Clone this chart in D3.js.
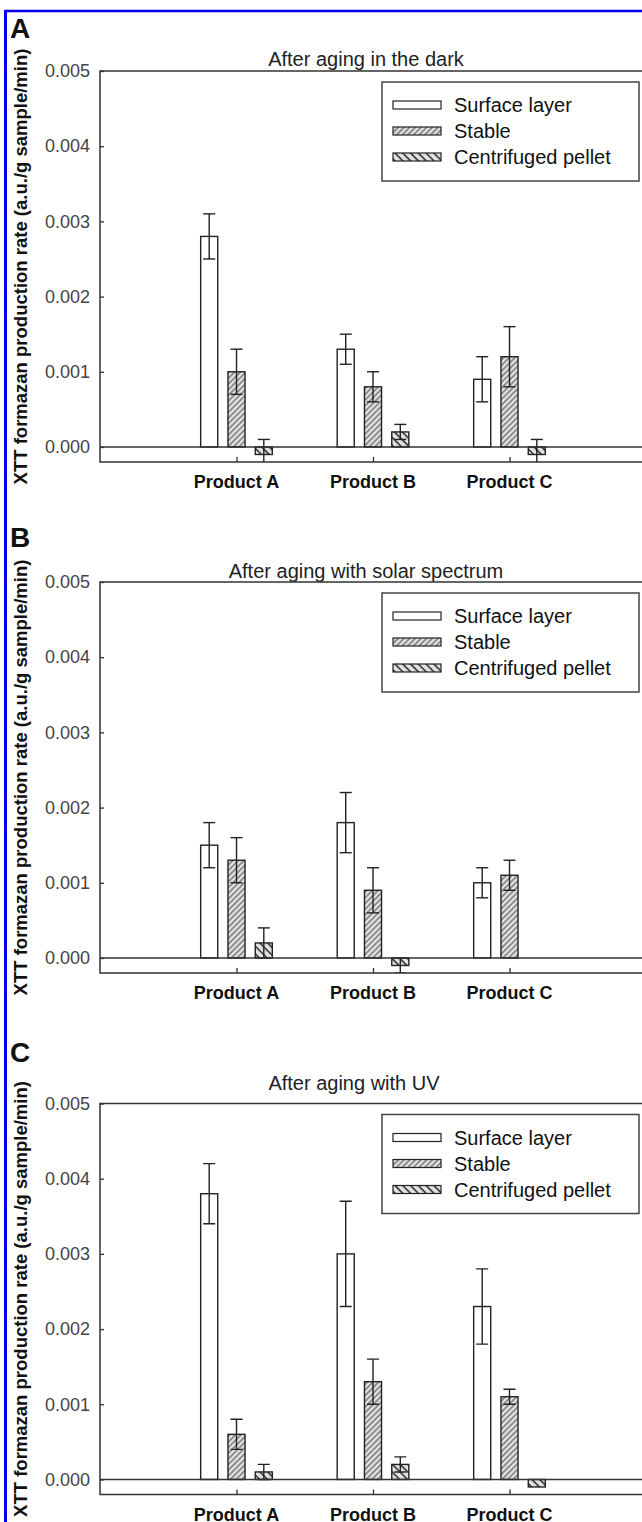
<!DOCTYPE html>
<html>
<head>
    <title>XTT formazan production</title>
    <meta charset="UTF-8">
    <script src="https://cdn.jsdelivr.net/npm/d3@7"></script>
    <style>
        body { margin: 0; background: #fff; }
        svg { display: block; }
        text { font-family: "Liberation Sans", Arial, sans-serif; }
    </style>
</head>
<body>

    <script>
        var categories = ['Product A', 'Product B', 'Product C']
        var seriesNames = ['Surface layer', 'Stable', 'Centrifuged pellet']
        var panelLetters = ['A', 'B', 'C']
        var panelTitles = ['After aging in the dark', 'After aging with solar spectrum', 'After aging with UV']
        var yTicks = [0, 0.001, 0.002, 0.003, 0.004, 0.005]
        var yTickLabels = ['0.000', '0.001', '0.002', '0.003', '0.004', '0.005']
        var yLabel = 'XTT formazan production rate (a.u./g sample/min)'

        // A: dark
        var darkSurface = [0.0028, 0.0013, 0.0009]
        var darkSurfaceErr = [0.0003, 0.0002, 0.0003]
        var darkStable = [0.0010, 0.0008, 0.0012]
        var darkStableErr = [0.0003, 0.0002, 0.0004]
        var darkPellet = [-0.0001, 0.0002, -0.0001]
        var darkPelletErr = [0.0002, 0.0001, 0.0002]

        // B: solar spectrum
        var solarSurface = [0.0015, 0.0018, 0.0010]
        var solarSurfaceErr = [0.0003, 0.0004, 0.0002]
        var solarStable = [0.0013, 0.0009, 0.0011]
        var solarStableErr = [0.0003, 0.0003, 0.0002]
        var solarPellet = [0.0002, -0.0001, null]
        var solarPelletErr = [0.0002, 0.0001, null]

        // C: UV
        var uvSurface = [0.0038, 0.0030, 0.0023]
        var uvSurfaceErr = [0.0004, 0.0007, 0.0005]
        var uvStable = [0.0006, 0.0013, 0.0011]
        var uvStableErr = [0.0002, 0.0003, 0.0001]
        var uvPellet = [0.0001, 0.0002, -0.0001]
        var uvPelletErr = [0.0001, 0.0001, 0]

        var panelValues = [
            [darkSurface, darkStable, darkPellet],
            [solarSurface, solarStable, solarPellet],
            [uvSurface, uvStable, uvPellet]
        ]
        var panelErrors = [
            [darkSurfaceErr, darkStableErr, darkPelletErr],
            [solarSurfaceErr, solarStableErr, solarPelletErr],
            [uvSurfaceErr, uvStableErr, uvPelletErr]
        ]

        // layout of each panel (frame top, letter baseline, title baseline, title centre)
        var panelTop = [71, 582, 1103.5]
        var letterY = [38, 547, 1062]
        var titleY = [66, 578, 1090]
        var titleX = [366, 366, 354]

        var W = 642, H = 1522
        var fills = ['#fff', 'url(#hatchStable)', 'url(#hatchPellet)']

        var svg = d3.select('body')
            .append('svg')
            .attr('width', W)
            .attr('height', H)

        var defs = svg.append('defs')

        defs.append('pattern')
            .attr('id', 'hatchStable')
            .attr('patternUnits', 'userSpaceOnUse')
            .attr('width', 4)
            .attr('height', 4)
            .attr('patternTransform', 'rotate(45)')
            .call(function(p){
                p.append('rect').attr('width', 4).attr('height', 4).attr('fill', '#e6e6e6')
                p.append('line').attr('x1', 1).attr('x2', 1).attr('y1', 0).attr('y2', 4)
                    .attr('stroke', '#444').attr('stroke-width', 1.1)
            })

        defs.append('pattern')
            .attr('id', 'hatchPellet')
            .attr('patternUnits', 'userSpaceOnUse')
            .attr('width', 5.5)
            .attr('height', 5.5)
            .attr('patternTransform', 'rotate(-45)')
            .call(function(p){
                p.append('rect').attr('width', 5.5).attr('height', 5.5).attr('fill', '#e2e2e2')
                p.append('line').attr('x1', 1).attr('x2', 1).attr('y1', 0).attr('y2', 5.5)
                    .attr('stroke', '#333').attr('stroke-width', 1.6)
            })

        var x = d3.scaleLinear().domain([0, 4]).range([100, 646])
        var offset = 0.2, barW = 0.125

        panelTitles.forEach(function(title, p){
            var top = panelTop[p]
            var y = d3.scaleLinear().domain([-0.0002, 0.005]).range([top + 391, top])
            var g = svg.append('g')

            defs.append('clipPath')
                .attr('id', 'clip' + p)
                .append('rect')
                .attr('x', x(0)).attr('y', y(0.005))
                .attr('width', x(4) - x(0)).attr('height', y(-0.0002) - y(0.005))

            // panel letter and title
            g.append('text')
                .text(panelLetters[p])
                .attr('x', 10).attr('y', letterY[p])
                .attr('font-size', 28).attr('font-weight', 'bold').attr('fill', '#111')

            g.append('text')
                .text(title)
                .attr('x', titleX[p]).attr('y', titleY[p])
                .attr('text-anchor', 'middle')
                .attr('font-size', 20).attr('fill', '#222')

            // y axis label
            g.append('text')
                .text(yLabel)
                .attr('transform', 'translate(27,' + (y(0.005) + y(-0.0002)) / 2 + ') rotate(-90)')
                .attr('text-anchor', 'middle')
                .attr('font-size', 18.5).attr('font-weight', 'bold').attr('fill', '#111')

            // bars
            var plot = g.append('g').attr('clip-path', 'url(#clip' + p + ')')

            panelValues[p].forEach(function(vals, s){
                var rows = vals.map(function(v, i){
                    return {v: v, e: panelErrors[p][s][i], c: i + 1}
                }).filter(function(d){ return d.v != null })

                plot.selectAll('rect.s' + s)
                    .data(rows)
                    .enter()
                    .append('rect')
                    .attr('class', 's' + s)
                    .attr('x', function(d){ return x(d.c + (s - 1) * offset - barW / 2) })
                    .attr('width', function(d){ return x(barW) - x(0) })
                    .attr('y', function(d){ return y(Math.max(d.v, 0)) })
                    .attr('height', function(d){ return Math.abs(y(d.v) - y(0)) })
                    .attr('fill', fills[s])
                    .attr('stroke', '#222')
                    .attr('stroke-width', 1.4)

                var eb = plot.selectAll('g.e' + s)
                    .data(rows.filter(function(d){ return d.e > 0 }))
                    .enter()
                    .append('g')
                    .attr('class', 'e' + s)
                    .attr('stroke', '#222')
                    .attr('stroke-width', 1.4)

                eb.append('line')
                    .attr('x1', function(d){ return x(d.c + (s - 1) * offset) })
                    .attr('x2', function(d){ return x(d.c + (s - 1) * offset) })
                    .attr('y1', function(d){ return y(d.v + d.e) })
                    .attr('y2', function(d){ return y(d.v - d.e) })

                ;[1, -1].forEach(function(sign){
                    eb.append('line')
                        .attr('x1', function(d){ return x(d.c + (s - 1) * offset) - 6 })
                        .attr('x2', function(d){ return x(d.c + (s - 1) * offset) + 6 })
                        .attr('y1', function(d){ return y(d.v + sign * d.e) })
                        .attr('y2', function(d){ return y(d.v + sign * d.e) })
                })
            })

            // zero line
            g.append('line')
                .attr('x1', x(0)).attr('x2', x(4))
                .attr('y1', y(0)).attr('y2', y(0))
                .attr('stroke', '#333').attr('stroke-width', 1.5)

            // frame
            g.append('rect')
                .attr('x', x(0)).attr('y', y(0.005))
                .attr('width', x(4) - x(0)).attr('height', y(-0.0002) - y(0.005))
                .attr('fill', 'none').attr('stroke', '#333').attr('stroke-width', 1.5)

            // y axis
            g.append('g')
                .attr('transform', 'translate(' + x(0) + ',0)')
                .call(d3.axisRight(y).tickValues(yTicks).tickSize(4)
                    .tickFormat(function(d, i){ return '' }))
                .call(function(a){
                    a.select('.domain').remove()
                    a.selectAll('line').attr('stroke', '#333').attr('stroke-width', 1.3)
                })

            g.selectAll('text.ytick')
                .data(yTicks)
                .enter()
                .append('text')
                .attr('class', 'ytick')
                .text(function(d, i){ return yTickLabels[i] })
                .attr('x', 90)
                .attr('y', function(d){ return y(d) })
                .attr('dy', '0.35em')
                .attr('text-anchor', 'end')
                .attr('font-size', 18).attr('fill', '#444')

            // x axis
            g.append('g')
                .attr('transform', 'translate(0,' + y(-0.0002) + ')')
                .call(d3.axisTop(x).tickValues([1, 2, 3]).tickSize(5).tickFormat(''))
                .call(function(a){
                    a.select('.domain').remove()
                    a.selectAll('line').attr('stroke', '#333').attr('stroke-width', 1.3)
                })

            g.selectAll('text.xtick')
                .data(categories)
                .enter()
                .append('text')
                .attr('class', 'xtick')
                .text(function(d){ return d })
                .attr('x', function(d, i){ return x(i + 1) })
                .attr('y', y(-0.0002) + 26)
                .attr('text-anchor', 'middle')
                .attr('font-size', 18).attr('font-weight', 'bold').attr('fill', '#111')

            // legend
            var lg = g.append('g').attr('transform', 'translate(382,' + (top + 11) + ')')
            lg.append('rect')
                .attr('width', 257).attr('height', 99)
                .attr('fill', '#fff').attr('stroke', '#444').attr('stroke-width', 1.5)

            var items = lg.selectAll('g.item')
                .data(seriesNames)
                .enter()
                .append('g')
                .attr('class', 'item')
                .attr('transform', function(d, i){ return 'translate(0,' + (23 + i * 26) + ')' })

            items.append('rect')
                .attr('x', 11).attr('y', -4)
                .attr('width', 48).attr('height', 8)
                .attr('fill', function(d, i){ return fills[i] })
                .attr('stroke', '#222').attr('stroke-width', 1.2)

            items.append('text')
                .text(function(d){ return d })
                .attr('x', 72).attr('dy', '0.35em')
                .attr('font-size', 20).attr('fill', '#111')
        })

        // blue border of the figure
        svg.append('line')
            .attr('x1', 5.5).attr('x2', 5.5).attr('y1', 10).attr('y2', H)
            .attr('stroke', '#0000ee').attr('stroke-width', 3)
        svg.append('line')
            .attr('x1', 4).attr('x2', W).attr('y1', 11).attr('y2', 11)
            .attr('stroke', '#0000ee').attr('stroke-width', 2.5)
    </script>

</body>
</html>
